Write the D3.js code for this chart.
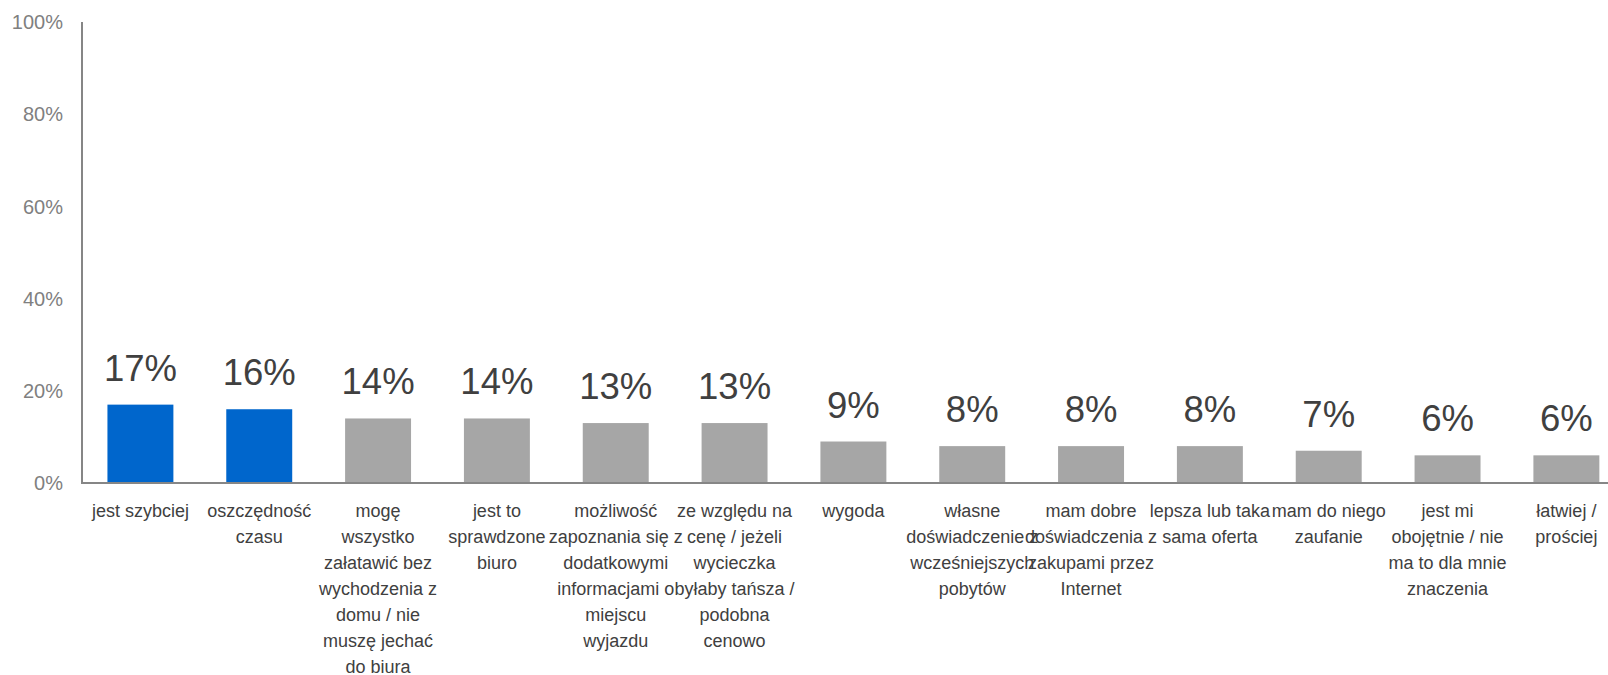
<!DOCTYPE html>
<html>
<head>
<meta charset="utf-8">
<script src="https://cdn.jsdelivr.net/npm/d3@7/dist/d3.min.js"></script>
<style>
  html, body { margin: 0; padding: 0; background: #ffffff; }
  svg { display: block; font-family: "Liberation Sans", Arial, sans-serif; }
</style>
</head>
<body>
<svg id="chart" width="1608" height="675"></svg>
<script>
// Reasons for booking online (share of answers)
const categories = [
  ["jest szybciej"],
  ["oszczędność", "czasu"],
  ["mogę", "wszystko", "załatawić bez", "wychodzenia z", "domu / nie", "muszę jechać", "do biura"],
  ["jest to", "sprawdzone", "biuro"],
  ["możliwość", "zapoznania się z", "dodatkowymi", "informacjami o", "miejscu", "wyjazdu"],
  ["ze względu na", "cenę / jeżeli", "wycieczka", "byłaby tańsza /", "podobna", "cenowo"],
  ["wygoda"],
  ["własne", "doświadczenie z", "wcześniejszych", "pobytów"],
  ["mam dobre", "doświadczenia z", "zakupami przez", "Internet"],
  ["lepsza lub taka", "sama oferta"],
  ["mam do niego", "zaufanie"],
  ["jest mi", "obojętnie / nie", "ma to dla mnie", "znaczenia"],
  ["łatwiej /", "prościej"]
];
const values = [17, 16, 14, 14, 13, 13, 9, 8, 8, 8, 7, 6, 6];
const highlighted = [true, true, false, false, false, false, false, false, false, false, false, false, false];
const yTicks = [0, 20, 40, 60, 80, 100];

const svg = d3.select("#chart");
const left = 82, baseY = 483, topY = 22, bandStep = 118.83;

const x = d3.scaleBand()
  .domain(d3.range(categories.length))
  .range([left - 1, left - 1 + bandStep * categories.length])
  .paddingInner(0.445)
  .paddingOuter(0.2225);

const y = d3.scaleLinear().domain([0, 100]).range([baseY, topY]);

// y axis labels
svg.append("g")
  .selectAll("text")
  .data(yTicks)
  .join("text")
  .attr("x", 63)
  .attr("y", d => y(d))
  .attr("dy", "0.36em")
  .attr("text-anchor", "end")
  .attr("font-size", 20)
  .attr("fill", "#808080")
  .text(d => d + "%");

// bars
svg.append("g")
  .selectAll("rect")
  .data(values)
  .join("rect")
  .attr("x", (d, i) => x(i))
  .attr("y", d => y(d))
  .attr("width", x.bandwidth())
  .attr("height", d => baseY - y(d))
  .attr("fill", (d, i) => highlighted[i] ? "#0066cc" : "#a6a6a6");

// value labels
svg.append("g")
  .selectAll("text")
  .data(values)
  .join("text")
  .attr("x", (d, i) => x(i) + x.bandwidth() / 2)
  .attr("y", d => y(d) - 24)
  .attr("text-anchor", "middle")
  .attr("font-size", 36.5)
  .attr("fill", "#404040")
  .text(d => d + "%");

// axes lines
svg.append("line")
  .attr("x1", left).attr("x2", left)
  .attr("y1", topY).attr("y2", baseY)
  .attr("stroke", "#868686").attr("stroke-width", 2);
svg.append("line")
  .attr("x1", left - 1).attr("x2", 1608)
  .attr("y1", baseY).attr("y2", baseY)
  .attr("stroke", "#868686").attr("stroke-width", 2);

// category labels
const labelTop = 517, lineStep = 26;
const catG = svg.append("g")
  .selectAll("text")
  .data(categories)
  .join("text")
  .attr("x", (d, i) => x(i) + x.bandwidth() / 2)
  .attr("y", labelTop)
  .attr("text-anchor", "middle")
  .attr("font-size", 18)
  .attr("fill", "#404040");

catG.selectAll("tspan")
  .data(d => d)
  .join("tspan")
  .attr("x", function () { return d3.select(this.parentNode).attr("x"); })
  .attr("y", (d, j) => labelTop + j * lineStep)
  .text(d => d);
</script>
</body>
</html>
